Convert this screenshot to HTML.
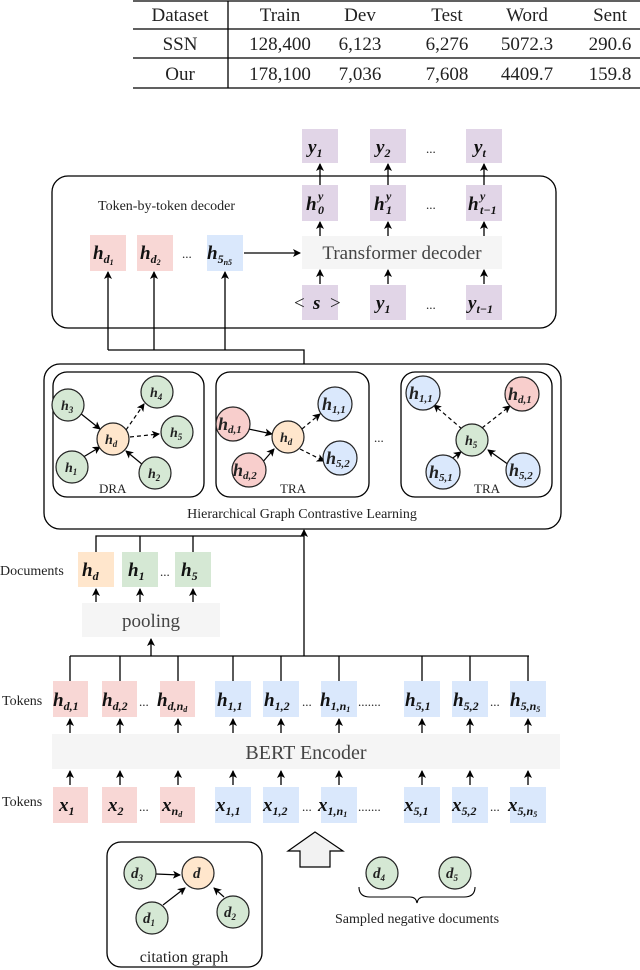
<!DOCTYPE html>
<html><head><meta charset="utf-8"><style>
body{margin:0;background:#fff}
svg{display:block;font-family:"Liberation Serif",serif}
text{font-family:"Liberation Serif",serif;fill:#222}
.m{font-style:italic;font-weight:bold;font-size:19px;fill:#111}
.s{font-size:12px}
.t{font-size:19px}
</style></head><body>
<svg width="640" height="970" viewBox="0 0 640 970" xmlns="http://www.w3.org/2000/svg" font-family="Liberation Serif, serif">
<defs>
<marker id="a" markerWidth="8" markerHeight="8" refX="7" refY="4" orient="auto" markerUnits="userSpaceOnUse"><path d="M0,0 L8,4 L0,8 L2,4z" fill="#000"/></marker>
</defs>
<!-- table -->
<g stroke="#000" stroke-width="1.3">
<line x1="133" y1="1" x2="640" y2="1"/><line x1="133" y1="29" x2="640" y2="29"/><line x1="133" y1="58" x2="640" y2="58"/><line x1="133" y1="88" x2="640" y2="88"/><line x1="228" y1="1" x2="228" y2="88"/>
</g>
<g text-anchor="middle" font-family="Liberation Serif, serif" font-size="19">
<text x="180" y="21">Dataset</text><text x="280" y="21">Train</text><text x="360" y="21">Dev</text><text x="447" y="21">Test</text><text x="527" y="21">Word</text><text x="610" y="21">Sent</text>
<text x="180" y="50">SSN</text><text x="280" y="50">128,400</text><text x="360" y="50">6,123</text><text x="447" y="50">6,276</text><text x="527" y="50">5072.3</text><text x="610" y="50">290.6</text>
<text x="180" y="80">Our</text><text x="280" y="80">178,100</text><text x="360" y="80">7,036</text><text x="447" y="80">7,608</text><text x="527" y="80">4409.7</text><text x="610" y="80">159.8</text>
</g>

<!-- decoder -->
<rect x="52" y="176" width="504" height="152" rx="16" fill="none" stroke="#000" stroke-width="1.3"/>
<g fill="#e1d5e7">
<rect x="302" y="129" width="36" height="34"/><rect x="370" y="129" width="36" height="34"/><rect x="466" y="129" width="36" height="34"/>
<rect x="302" y="185" width="36" height="36"/><rect x="370" y="185" width="36" height="36"/><rect x="466" y="185" width="36" height="36"/>
<rect x="302" y="285" width="36" height="35"/><rect x="370" y="285" width="36" height="35"/><rect x="466" y="285" width="36" height="35"/>
</g>
<rect x="302" y="236" width="200" height="33" fill="#f5f5f5"/>
<text x="402" y="259" text-anchor="middle" style="font-size:19px;fill:#444">Transformer decoder</text>
<text x="98" y="210" style="font-size:14px">Token-by-token decoder</text>
<rect x="90" y="235" width="36" height="36" fill="#f8d7d5"/><rect x="137" y="235" width="36" height="36" fill="#f8d7d5"/><rect x="207" y="235" width="36" height="36" fill="#dae8fc"/>
<text class="m" x="93" y="259">h<tspan class="s" dy="4">d</tspan><tspan style="font-size:8px" dy="2">1</tspan></text>
<text class="m" x="140" y="259">h<tspan class="s" dy="4">d</tspan><tspan style="font-size:8px" dy="2">2</tspan></text>
<text class="m" x="207" y="259">h<tspan class="s" dy="4">5</tspan><tspan style="font-size:8px" dy="2">n5</tspan></text>
<text x="182" y="258" style="font-size:13px">...</text>
<text class="m" x="308" y="153">y<tspan class="s" dy="4">1</tspan></text>
<text class="m" x="376" y="153">y<tspan class="s" dy="4">2</tspan></text>
<text class="m" x="474" y="153">y<tspan class="s" dy="4">t</tspan></text>
<text class="m" x="306" y="210">h</text><text class="m s" x="318" y="214">0</text><text class="m s" x="318" y="200">y</text>
<text class="m" x="374" y="210">h</text><text class="m s" x="386" y="214">1</text><text class="m s" x="386" y="200">y</text>
<text class="m" x="468" y="210">h</text><text class="m s" x="480" y="214">t−1</text><text class="m s" x="480" y="200">y</text>
<text x="294" y="309" style="font-size:19px">&lt;</text><text class="m" x="313" y="309">s</text><text x="330" y="309" style="font-size:19px">&gt;</text>
<text class="m" x="376" y="309">y<tspan class="s" dy="4">1</tspan></text>
<text class="m" x="468" y="309">y<tspan class="s" dy="4">t−1</tspan></text>
<g style="font-size:13px"><text x="426" y="153">...</text><text x="426" y="209">...</text><text x="426" y="309">...</text></g>
<g stroke="#000" stroke-width="1.3" marker-end="url(#a)">
<line x1="320" y1="185" x2="320" y2="164"/><line x1="388" y1="185" x2="388" y2="164"/><line x1="484" y1="185" x2="484" y2="164"/>
<line x1="320" y1="236" x2="320" y2="222"/><line x1="388" y1="236" x2="388" y2="222"/><line x1="484" y1="236" x2="484" y2="222"/>
<line x1="320" y1="284" x2="320" y2="270"/><line x1="388" y1="284" x2="388" y2="270"/><line x1="484" y1="284" x2="484" y2="270"/>
<line x1="244" y1="253" x2="300" y2="253"/>
<line x1="108" y1="350" x2="108" y2="272"/><line x1="154" y1="350" x2="154" y2="272"/><line x1="225" y1="350" x2="225" y2="272"/>
</g>
<polyline points="108,350 304,350 304,364" fill="none" stroke="#000" stroke-width="1.3"/>

<!-- graph box -->
<rect x="44" y="364" width="517" height="165" rx="16" fill="none" stroke="#000" stroke-width="1.3"/>
<rect x="53" y="372" width="151" height="125" rx="14" fill="none" stroke="#000" stroke-width="1.3"/>
<rect x="216" y="372" width="153" height="125" rx="14" fill="none" stroke="#000" stroke-width="1.3"/>
<rect x="401" y="372" width="151" height="125" rx="14" fill="none" stroke="#000" stroke-width="1.3"/>
<g stroke="#000" stroke-width="1.2" marker-end="url(#a)">
<line x1="80" y1="413" x2="100" y2="429"/><line x1="80" y1="459" x2="100" y2="447"/><line x1="143" y1="465" x2="126" y2="451"/>
<line x1="244" y1="428" x2="272" y2="434"/><line x1="261" y1="464" x2="274" y2="449"/>
<line x1="450" y1="460" x2="461" y2="452"/><line x1="509" y1="465" x2="488" y2="450"/>
</g>
<g stroke="#000" stroke-width="1.2" stroke-dasharray="4,3" marker-end="url(#a)">
<line x1="126" y1="430" x2="144" y2="404"/><line x1="130" y1="437" x2="159" y2="434"/>
<line x1="302" y1="429" x2="320" y2="414"/><line x1="300" y1="449" x2="324" y2="461"/>
<line x1="462" y1="429" x2="434" y2="405"/><line x1="482" y1="428" x2="510" y2="406"/>
</g>
<g stroke="#222" stroke-width="1.2">
<circle cx="68" cy="405" r="16" fill="#d5e8d4"/><circle cx="157" cy="392" r="16" fill="#d5e8d4"/><circle cx="113" cy="439" r="16" fill="#ffe6cc"/><circle cx="177" cy="432" r="16" fill="#d5e8d4"/><circle cx="72" cy="467" r="16" fill="#d5e8d4"/><circle cx="155" cy="473" r="16" fill="#d5e8d4"/>
<circle cx="233" cy="424" r="17" fill="#f8cecc"/><circle cx="288" cy="437" r="16" fill="#ffe6cc"/><circle cx="335" cy="404" r="17" fill="#dae8fc"/><circle cx="249" cy="470" r="17" fill="#f8cecc"/><circle cx="340" cy="458" r="17" fill="#dae8fc"/>
<circle cx="423" cy="393" r="17" fill="#dae8fc"/><circle cx="522" cy="394" r="17" fill="#f8cecc"/><circle cx="472" cy="440" r="16" fill="#d5e8d4"/><circle cx="443" cy="472" r="17" fill="#dae8fc"/><circle cx="523" cy="470" r="17" fill="#dae8fc"/>
</g>
<g style="font-style:italic;font-size:14px;font-weight:bold">
<text x="61" y="410">h<tspan font-size="9" dy="3">3</tspan></text>
<text x="150" y="397">h<tspan font-size="9" dy="3">4</tspan></text>
<text x="105" y="444">h<tspan font-size="9" dy="3">d</tspan></text>
<text x="170" y="437">h<tspan font-size="9" dy="3">5</tspan></text>
<text x="65" y="472">h<tspan font-size="9" dy="3">1</tspan></text>
<text x="148" y="478">h<tspan font-size="9" dy="3">2</tspan></text>
<text x="280" y="442">h<tspan font-size="9" dy="3">d</tspan></text>
<text x="465" y="445">h<tspan font-size="9" dy="3">5</tspan></text>
</g>
<g style="font-style:italic;font-size:18px;font-weight:bold">
<text x="218" y="430">h<tspan font-size="11" dy="3">d,1</tspan></text>
<text x="322" y="410">h<tspan font-size="11" dy="3">1,1</tspan></text>
<text x="233" y="476">h<tspan font-size="11" dy="3">d,2</tspan></text>
<text x="326" y="464">h<tspan font-size="11" dy="3">5,2</tspan></text>
<text x="409" y="399">h<tspan font-size="11" dy="3">1,1</tspan></text>
<text x="508" y="400">h<tspan font-size="11" dy="3">d,1</tspan></text>
<text x="429" y="478">h<tspan font-size="11" dy="3">5,1</tspan></text>
<text x="509" y="476">h<tspan font-size="11" dy="3">5,2</tspan></text>
</g>
<g style="font-size:13px"><text x="99" y="493">DRA</text><text x="280" y="493">TRA</text><text x="474" y="493">TRA</text><text x="374" y="442">...</text></g>
<text x="302" y="518" text-anchor="middle" style="font-size:14px">Hierarchical Graph Contrastive  Learning</text>

<!-- documents -->
<rect x="78" y="552" width="36" height="35" fill="#ffe6cc"/><rect x="122" y="552" width="36" height="35" fill="#d5e8d4"/><rect x="175" y="552" width="36" height="35" fill="#d5e8d4"/>
<text x="0" y="575" style="font-size:14px">Documents</text>
<text class="m" x="82" y="576">h<tspan class="s" dy="4">d</tspan></text>
<text class="m" x="128" y="576">h<tspan class="s" dy="4">1</tspan></text>
<text class="m" x="181" y="576">h<tspan class="s" dy="4">5</tspan></text>
<text x="160" y="576" style="font-size:13px">...</text>
<rect x="82" y="603" width="138" height="34" fill="#f5f5f5"/>
<text x="151" y="627" text-anchor="middle" style="font-size:19px;fill:#444">pooling</text>
<polyline points="96,552 96,536 304,536" fill="none" stroke="#000" stroke-width="1.3"/>
<line x1="140" y1="536" x2="140" y2="552" stroke="#000" stroke-width="1.3"/><line x1="193" y1="536" x2="193" y2="552" stroke="#000" stroke-width="1.3"/>
<g stroke="#000" stroke-width="1.3" marker-end="url(#a)">
<line x1="96" y1="602" x2="96" y2="589"/><line x1="140" y1="602" x2="140" y2="589"/><line x1="193" y1="602" x2="193" y2="589"/>
<line x1="151" y1="656" x2="151" y2="639"/>
<line x1="304" y1="656" x2="304" y2="530"/>
</g>

<!-- tokens -->
<line x1="70" y1="656" x2="529" y2="656" stroke="#000" stroke-width="1.3"/>
<g stroke="#000" stroke-width="1.3">
<line x1="70" y1="656" x2="70" y2="681"/><line x1="120" y1="656" x2="120" y2="681"/><line x1="178" y1="656" x2="178" y2="681"/><line x1="233" y1="656" x2="233" y2="681"/><line x1="281" y1="656" x2="281" y2="681"/><line x1="339" y1="656" x2="339" y2="681"/><line x1="422" y1="656" x2="422" y2="681"/><line x1="470" y1="656" x2="470" y2="681"/><line x1="528" y1="656" x2="528" y2="681"/>
</g>
<g fill="#f8d7d5"><rect x="53" y="681" width="35" height="36"/><rect x="102" y="681" width="35" height="36"/><rect x="160" y="681" width="35" height="36"/>
<rect x="53" y="787" width="35" height="36"/><rect x="102" y="787" width="35" height="36"/><rect x="160" y="787" width="35" height="36"/></g>
<g fill="#dae8fc"><rect x="215" y="681" width="36" height="36"/><rect x="263" y="681" width="36" height="36"/><rect x="321" y="681" width="36" height="36"/><rect x="404" y="681" width="36" height="36"/><rect x="452" y="681" width="36" height="36"/><rect x="510" y="681" width="36" height="36"/>
<rect x="215" y="787" width="36" height="36"/><rect x="263" y="787" width="36" height="36"/><rect x="321" y="787" width="36" height="36"/><rect x="404" y="787" width="36" height="36"/><rect x="452" y="787" width="36" height="36"/><rect x="510" y="787" width="36" height="36"/></g>
<rect x="52" y="734" width="508" height="35" fill="#f5f5f5"/>
<text x="306" y="759" text-anchor="middle" style="font-size:20px;fill:#444">BERT Encoder</text>
<text x="2" y="705" style="font-size:14px">Tokens</text><text x="2" y="806" style="font-size:14px">Tokens</text>
<g stroke="#000" stroke-width="1.3" marker-end="url(#a)">
<line x1="70" y1="733" x2="70" y2="719"/><line x1="120" y1="733" x2="120" y2="719"/><line x1="178" y1="733" x2="178" y2="719"/><line x1="233" y1="733" x2="233" y2="719"/><line x1="281" y1="733" x2="281" y2="719"/><line x1="339" y1="733" x2="339" y2="719"/><line x1="422" y1="733" x2="422" y2="719"/><line x1="470" y1="733" x2="470" y2="719"/><line x1="528" y1="733" x2="528" y2="719"/>
<line x1="70" y1="785" x2="70" y2="771"/><line x1="120" y1="785" x2="120" y2="771"/><line x1="178" y1="785" x2="178" y2="771"/><line x1="233" y1="785" x2="233" y2="771"/><line x1="281" y1="785" x2="281" y2="771"/><line x1="339" y1="785" x2="339" y2="771"/><line x1="422" y1="785" x2="422" y2="771"/><line x1="470" y1="785" x2="470" y2="771"/><line x1="528" y1="785" x2="528" y2="771"/>
</g>
<g>
<text class="m" x="53" y="706">h<tspan class="s" dy="4">d,1</tspan></text>
<text class="m" x="102" y="706">h<tspan class="s" dy="4">d,2</tspan></text>
<text class="m" x="157" y="706">h<tspan class="s" dy="4">d,n</tspan><tspan style="font-size:8px" dy="2">d</tspan></text>
<text class="m" x="217" y="706">h<tspan class="s" dy="4">1,1</tspan></text>
<text class="m" x="264" y="706">h<tspan class="s" dy="4">1,2</tspan></text>
<text class="m" x="320" y="706">h<tspan class="s" dy="4">1,n</tspan><tspan style="font-size:8px" dy="2">1</tspan></text>
<text class="m" x="405" y="706">h<tspan class="s" dy="4">5,1</tspan></text>
<text class="m" x="453" y="706">h<tspan class="s" dy="4">5,2</tspan></text>
<text class="m" x="510" y="706">h<tspan class="s" dy="4">5,n</tspan><tspan style="font-size:8px" dy="2">5</tspan></text>
<text class="m" x="59" y="811">x<tspan class="s" dy="4">1</tspan></text>
<text class="m" x="108" y="811">x<tspan class="s" dy="4">2</tspan></text>
<text class="m" x="162" y="811">x<tspan class="s" dy="4">n</tspan><tspan style="font-size:8px" dy="2">d</tspan></text>
<text class="m" x="216" y="811">x<tspan class="s" dy="4">1,1</tspan></text>
<text class="m" x="263" y="811">x<tspan class="s" dy="4">1,2</tspan></text>
<text class="m" x="318" y="811">x<tspan class="s" dy="4">1,n</tspan><tspan style="font-size:8px" dy="2">1</tspan></text>
<text class="m" x="404" y="811">x<tspan class="s" dy="4">5,1</tspan></text>
<text class="m" x="452" y="811">x<tspan class="s" dy="4">5,2</tspan></text>
<text class="m" x="508" y="811">x<tspan class="s" dy="4">5,n</tspan><tspan style="font-size:8px" dy="2">5</tspan></text>
</g>
<g style="font-size:13px">
<text x="139" y="706">...</text><text x="302" y="706">...</text><text x="358" y="706">.......</text><text x="490" y="706">...</text>
<text x="139" y="811">...</text><text x="302" y="811">...</text><text x="358" y="811">.......</text><text x="490" y="811">...</text>
</g>

<!-- citation -->
<rect x="107" y="842" width="155" height="125" rx="14" fill="none" stroke="#000" stroke-width="1.3"/>
<polygon points="315,832 343,851 330,851 330,867 300,867 300,851 288,851" fill="#f2f2f2" stroke="#000" stroke-width="1.2"/>
<g stroke="#000" stroke-width="1.2" marker-end="url(#a)">
<line x1="156" y1="874" x2="180" y2="875"/><line x1="163" y1="905" x2="185" y2="888"/><line x1="224" y1="897" x2="214" y2="888"/>
</g>
<g stroke="#222" stroke-width="1.2">
<circle cx="140" cy="873" r="16" fill="#d5e8d4"/><circle cx="198" cy="873" r="16" fill="#ffe6cc"/><circle cx="152" cy="918" r="16" fill="#d5e8d4"/><circle cx="233" cy="912" r="16" fill="#d5e8d4"/>
<circle cx="382" cy="873" r="16" fill="#d5e8d4"/><circle cx="455" cy="873" r="16" fill="#d5e8d4"/>
</g>
<g style="font-style:italic;font-size:15px;font-weight:bold">
<text x="131" y="878">d<tspan font-size="9" dy="3">3</tspan></text>
<text x="193" y="878">d</text>
<text x="143" y="923">d<tspan font-size="9" dy="3">1</tspan></text>
<text x="224" y="917">d<tspan font-size="9" dy="3">2</tspan></text>
<text x="373" y="878">d<tspan font-size="9" dy="3">4</tspan></text>
<text x="446" y="878">d<tspan font-size="9" dy="3">5</tspan></text>
</g>
<path d="M359,887 Q359,897 370,897 L410,897 Q416,897 417,903 Q418,897 424,897 L464,897 Q475,897 475,887" fill="none" stroke="#000" stroke-width="1.1"/>
<text x="417" y="923" text-anchor="middle" style="font-size:14px">Sampled negative documents</text>
<text x="184" y="962" text-anchor="middle" style="font-size:16px">citation graph</text>
</svg>
</body></html>
